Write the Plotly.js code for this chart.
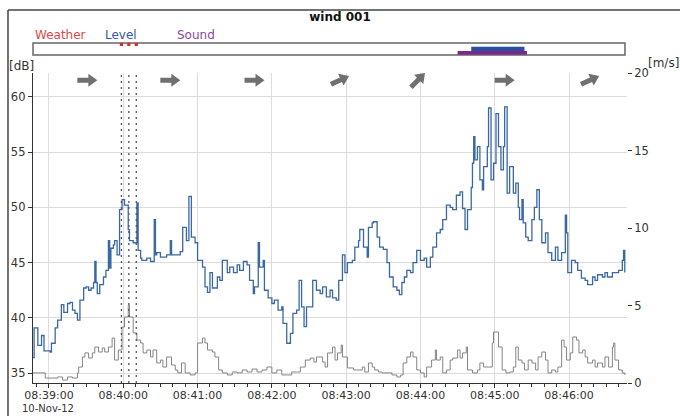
<!DOCTYPE html>
<html>
<head>
<meta charset="utf-8">
<script src="https://cdn.plot.ly/plotly-3.0.1.min.js"></script>
<style>html,body{margin:0;padding:0;background:#fff;}#chart{width:680px;height:416px;}</style>
</head>
<body>
<div id="chart"></div>
<script>
// seconds after 08:39:00 on 10-Nov-12
const levelT = [-13,-12,-9,-6,-4,1,2,5,7,10,12,15,17,19,21,23,25,28,30,32,34,36,37,38,39,41,44,46,48,49,50,52,53,55,57,59,61,64,65,68,71,72,74,75,79,82,85,86,87,90,95,98,99,106,108,111,113,115,118,120,124,126,128,130,132,136,138,140,144,146,149,152,154,157,160,162,165,166,169,170,173,174,177,180,182,185,188,189,192,195,197,200,202,204,206,208,211,213,216,219,221,224,227,229,232,234,237,239,241,245,247,250,251,254,257,258,261,262,265,267,270,273,275,278,281,283,285,287,289,292,294,297,300,303,305,308,310,313,316,318,321,324,326,329,332,334,336,338,341,342,343,344,346,348,350,351,354,355,357,359,361,363,365,367,368,370,372,375,377,379,380,382,383,385,387,390,392,394,396,398,401,403,406,409,411,414,417,418,419,422,425,427,430,433,435,439,441,443,447,449,451,455,457,460,463,464,465];
const levelDb = [36.4,39.1,37.5,38.4,37.0,36.9,37.7,39.1,39.8,41.2,40.5,41.3,41.4,40.7,40.4,39.8,41.6,42.7,42.8,42.5,42.7,43.2,45.1,43.2,42.2,43.0,43.7,44.3,47.0,44.5,46.3,46.6,47.0,45.7,49.8,50.7,50.2,48.0,47.0,46.8,50.4,46.1,45.4,45.2,45.4,45.1,48.9,45.7,45.9,45.5,45.7,47.0,45.7,46.0,48.2,47.0,51.0,47.3,46.8,45.2,44.6,42.8,42.3,44.1,42.7,43.7,43.4,45.2,44.1,44.6,44.1,44.8,44.3,45.1,44.8,43.4,42.2,42.8,46.8,44.6,45.2,42.5,41.8,41.3,41.6,40.7,41.0,39.5,37.7,38.6,40.4,40.7,43.4,41.0,39.2,41.0,41.0,43.4,42.5,42.2,42.8,41.9,42.5,41.8,41.6,43.4,45.7,44.1,45.0,45.2,46.4,47.0,48.0,46.4,45.5,48.2,48.6,48.7,47.3,46.4,46.2,45.0,43.7,42.8,42.5,42.1,43.2,43.7,44.3,44.1,45.0,46.1,45.2,45.4,44.6,45.5,46.4,47.7,48.0,48.9,50.2,50.0,49.8,51.1,51.4,49.9,48.0,49.8,51.8,54.0,56.4,54.3,55.5,52.5,51.6,53.7,55.5,59.0,52.5,54.0,58.5,55.5,53.4,55.5,59.1,51.3,53.7,51.3,52.2,50.0,48.9,50.7,48.6,47.3,47.0,48.9,50.0,51.6,48.9,46.8,47.7,45.9,45.2,46.4,45.2,45.9,49.3,47.7,44.1,45.2,45.0,44.3,43.6,43.4,43.0,43.7,43.4,43.9,43.7,44.1,43.7,44.1,44.1,44.3,45.2,46.1,44.1];

const windT = [-13,-7,-3,3,7,11,15,19,23,24,27,29,32,35,37,40,43,45,48,51,53,56,59,61,64,65,68,71,74,76,79,82,84,87,90,92,95,98,99,102,104,107,110,114,118,120,124,126,128,132,134,137,140,144,148,152,156,160,164,168,172,176,180,184,188,192,196,200,203,207,211,214,216,221,223,225,229,231,233,236,237,241,246,249,253,255,258,261,263,266,269,273,277,281,284,286,289,292,294,297,300,303,305,309,312,313,316,318,321,324,326,330,332,334,337,338,342,346,348,351,355,358,359,362,363,366,369,372,375,377,379,382,384,387,390,393,395,398,401,403,406,409,411,414,416,418,421,423,426,428,431,433,435,439,441,443,447,449,452,455,456,457,460,463,465];
const windMs = [0.65,0.65,0.32,0.32,0.39,0.19,0.39,0.32,0.65,1.03,1.68,1.94,1.61,1.94,2.32,2.0,2.26,2.0,2.32,2.9,1.48,2.13,3.61,4.26,5.03,4.26,3.23,2.77,2.58,1.94,2.13,1.68,2.13,1.29,1.48,1.03,1.68,1.68,1.16,0.84,0.65,1.29,0.65,0.52,0.65,2.58,2.9,2.58,2.13,2.0,1.68,0.84,0.65,0.52,0.71,0.65,0.84,0.71,0.9,0.71,0.84,1.03,0.65,0.84,0.52,0.52,0.71,0.71,1.03,1.48,1.61,1.35,1.68,1.35,1.03,1.94,2.32,1.48,1.94,2.45,1.68,0.97,0.84,0.84,1.03,0.71,1.29,1.03,0.84,0.71,0.65,0.65,0.52,0.39,0.52,1.29,1.68,2.0,1.68,0.84,0.65,0.39,1.03,1.48,2.13,1.48,1.68,0.65,0.84,1.48,1.61,2.13,1.61,1.94,2.32,0.84,0.65,0.84,1.29,1.03,1.03,2.58,3.29,3.29,2.32,0.84,0.65,0.71,1.03,2.32,1.48,1.29,0.84,1.48,1.29,0.84,1.68,2.0,1.48,0.65,0.84,0.71,1.03,2.77,2.32,1.48,1.94,2.97,2.77,1.94,2.13,1.68,1.29,1.48,1.03,1.29,1.03,1.68,1.03,2.32,2.58,1.48,0.84,0.65,0.52];

// wind direction arrows: centre time (s) and direction angle (deg, 0 = east, counter-clockwise)
const arrowT = [31, 98, 166, 235, 298, 368, 437];
const arrowDeg = [0, 0, 0, 25, 45, 0, 25];

// weather events (s)
const weatherT = [58.5, 64.5, 70.5];
// level / sound events in status strip (s)
const levelEvent = [341, 384];
const soundEvent = [330, 386];

const xRange = [-12.9, 466.8];
const dbRange = [34.1, 62.17];
const msRange = [0, 20];

function ts(s) {
  const d = new Date(Date.UTC(2012, 10, 10, 8, 39, 0) + Math.round(s * 1000));
  return d.toISOString().replace('T', ' ').replace('Z', '');
}

const FONT = 'DejaVu Sans, Verdana, sans-serif';

const traces = [
  {
    x: windT.map(ts), y: windMs, yaxis: 'y2', type: 'scatter', mode: 'lines',
    line: {shape: 'hv', color: '#858585', width: 1}, hoverinfo: 'skip'
  },
  {
    x: levelT.map(ts), y: levelDb, type: 'scatter', mode: 'lines',
    line: {shape: 'hv', color: '#3a68a2', width: 1.3}, hoverinfo: 'skip'
  }
];

const shapes = [];
// frame
shapes.push({type: 'line', xref: 'paper', yref: 'paper', x0: -0.0421, x1: 1.1, y0: 1.2032, y1: 1.2032, line: {color: '#444', width: 1.5}});
shapes.push({type: 'line', xref: 'paper', yref: 'paper', x0: -0.0421, x1: -0.0421, y0: 1.2032, y1: -0.2, line: {color: '#444', width: 1.5}});
// status strip
shapes.push({type: 'rect', xref: 'paper', yref: 'paper', x0: 0, x1: 0.9966, y0: 1.058, y1: 1.097, line: {color: '#666', width: 1.5}, fillcolor: 'rgba(0,0,0,0)'});
shapes.push({type: 'rect', xref: 'x', yref: 'paper', x0: ts(levelEvent[0]), x1: ts(levelEvent[1]), y0: 1.071, y1: 1.085, line: {width: 0}, fillcolor: '#2b50a0'});
shapes.push({type: 'rect', xref: 'x', yref: 'paper', x0: ts(soundEvent[0]), x1: ts(soundEvent[1]), y0: 1.059, y1: 1.071, line: {width: 0}, fillcolor: '#7a2a88'});
weatherT.forEach(t => {
  shapes.push({type: 'rect', xref: 'x', yref: 'paper', x0: ts(t - 1.3), x1: ts(t + 1.3), y0: 1.087, y1: 1.097, line: {width: 0}, fillcolor: '#e02828'});
  shapes.push({type: 'line', xref: 'x', yref: 'paper', x0: ts(t), x1: ts(t), y0: 0, y1: 1, line: {color: '#555', width: 1.3, dash: '2px,4px'}});
});
// wind direction arrows drawn as pixel-sized polygons anchored at their time
const arrowPoly = [[-10, -2.5], [1, -2.5], [1, -6.5], [10, 0], [1, 6.5], [1, 2.5], [-10, 2.5]];
arrowT.forEach((t, i) => {
  const a = arrowDeg[i] * Math.PI / 180;
  const pts = arrowPoly.map(([px, py]) => [px * Math.cos(a) - py * Math.sin(a), px * Math.sin(a) + py * Math.cos(a)]);
  const path = 'M ' + pts.map(p => p[0].toFixed(2) + ',' + p[1].toFixed(2)).join(' L ') + ' Z';
  shapes.push({
    type: 'path', xref: 'x', yref: 'paper', xsizemode: 'pixel', ysizemode: 'pixel',
    xanchor: ts(t), yanchor: 0.977, path: path,
    fillcolor: '#707070', line: {width: 0}
  });
});

const annotations = [
  {text: 'Weather', xref: 'paper', yref: 'paper', x: 0, y: 1.1226, xanchor: 'left', yanchor: 'middle', showarrow: false, font: {family: FONT, size: 12, color: '#e04848'}},
  {text: 'Level', xref: 'paper', yref: 'paper', x: 0.1178, y: 1.1226, xanchor: 'left', yanchor: 'middle', showarrow: false, font: {family: FONT, size: 12, color: '#34589c'}},
  {text: 'Sound', xref: 'paper', yref: 'paper', x: 0.239, y: 1.1226, xanchor: 'left', yanchor: 'middle', showarrow: false, font: {family: FONT, size: 12, color: '#8a48a0'}},
  {text: '[dB]', xref: 'paper', yref: 'paper', x: -0.043, y: 1.0226, xanchor: 'left', yanchor: 'middle', showarrow: false, font: {family: FONT, size: 12, color: '#333'}},
  {text: '[m/s]', xref: 'paper', yref: 'paper', x: 1.032, y: 1.032, xanchor: 'left', yanchor: 'middle', showarrow: false, font: {family: FONT, size: 12, color: '#333'}},
  {text: '10-Nov-12', xref: 'paper', yref: 'paper', x: -0.022, y: -0.1065, xanchor: 'left', yanchor: 'bottom', showarrow: false, font: {family: FONT, size: 10, color: '#333'}}
];

const layout = {
  width: 680, height: 416,
  margin: {l: 33, r: 53, t: 73, b: 33},
  paper_bgcolor: '#fff', plot_bgcolor: '#fff',
  showlegend: false,
  title: {text: '<b>wind 001</b>', x: 0.5, xref: 'container', y: 0.959, yref: 'container', yanchor: 'middle', font: {family: FONT, size: 12, color: '#111'}},
  font: {family: FONT, size: 11.5, color: '#333'},
  xaxis: {
    type: 'date', range: [ts(xRange[0]), ts(xRange[1])],
    dtick: 60000, tick0: ts(0), tickformat: '%H:%M:%S',
    ticks: 'outside', ticklen: 4, tickcolor: '#333', ticklabelstandoff: -2,
    minor: {dtick: 10000, ticks: 'outside', ticklen: 3, tickcolor: '#333', showgrid: false},
    showgrid: true, gridcolor: '#dcdcdc', gridwidth: 1,
    showline: true, linecolor: '#333', linewidth: 1.2,
    zeroline: false, fixedrange: true,
    tickfont: {family: FONT, size: 11, color: '#333'}
  },
  yaxis: {
    range: dbRange, dtick: 5, tick0: 35,
    ticks: 'outside', ticklen: 4, tickcolor: '#333',
    showgrid: true, gridcolor: '#dcdcdc', gridwidth: 1,
    showline: true, linecolor: '#333', linewidth: 1.2,
    zeroline: false, fixedrange: true,
    tickfont: {family: FONT, size: 11.5, color: '#333'}
  },
  yaxis2: {
    range: msRange, dtick: 5, overlaying: 'y', side: 'right',
    ticks: 'outside', ticklen: 4, tickcolor: '#333',
    showgrid: false, showline: false, zeroline: false, fixedrange: true,
    tickfont: {family: FONT, size: 11.5, color: '#333'}
  },
  shapes: shapes,
  annotations: annotations
};

Plotly.newPlot('chart', traces, layout, {staticPlot: true, displayModeBar: false});
</script>
</body>
</html>
